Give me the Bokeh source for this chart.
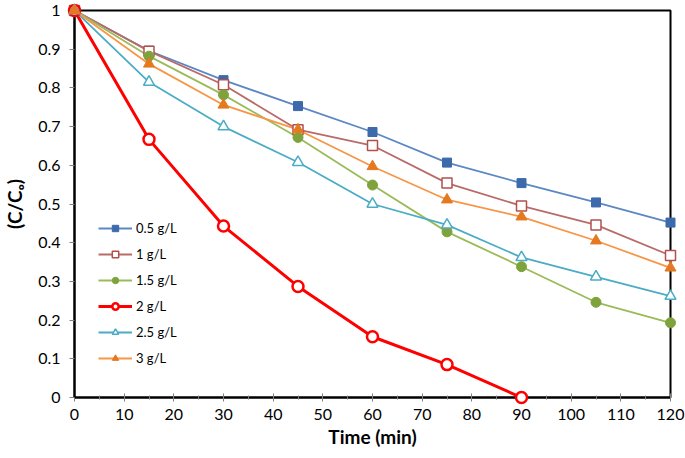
from bokeh.plotting import figure
from bokeh.models import Range1d, FixedTicker, Legend, LegendItem
from bokeh.embed import file_html
from bokeh.resources import INLINE

time_min = [0, 15, 30, 45, 60, 75, 90, 105, 120]
time_2g = [0, 15, 30, 45, 60, 75, 90]

c_05 = [1.0, 0.896, 0.82, 0.753, 0.686, 0.607, 0.554, 0.504, 0.452]
c_1 = [1.0, 0.895, 0.808, 0.692, 0.651, 0.554, 0.495, 0.446, 0.367]
c_15 = [1.0, 0.882, 0.782, 0.672, 0.549, 0.428, 0.338, 0.246, 0.193]
c_2 = [1.0, 0.667, 0.443, 0.287, 0.157, 0.085, 0.0]
c_25 = [1.0, 0.815, 0.70, 0.608, 0.50, 0.446, 0.362, 0.312, 0.262]
c_3 = [1.0, 0.862, 0.756, 0.692, 0.597, 0.511, 0.467, 0.405, 0.335]

labels = ["0.5 g/L", "1 g/L", "1.5 g/L", "2 g/L", "2.5 g/L", "3 g/L"]
y_ticks = [0, 0.1, 0.2, 0.3, 0.4, 0.5, 0.6, 0.7, 0.8, 0.9, 1.0]
y_tick_labels = ["0", "0.1", "0.2", "0.3", "0.4", "0.5", "0.6", "0.7", "0.8", "0.9", "1"]
x_ticks = [0, 10, 20, 30, 40, 50, 60, 70, 80, 90, 100, 110, 120]

FONT = "Lato"

p = figure(width=685, height=458, output_backend="svg", toolbar_location=None,
           x_range=Range1d(0, 120), y_range=Range1d(0, 1),
           min_border_left=72, min_border_right=15, min_border_top=10, min_border_bottom=61)
p.xgrid.visible = False
p.ygrid.visible = False
p.outline_line_color = "black"
p.outline_line_width = 2
p.background_fill_color = "white"
p.border_fill_color = "white"

for ax in (p.xaxis[0], p.yaxis[0]):
    ax.axis_line_color = "black"
    ax.axis_line_width = 2
    ax.major_tick_line_color = "#808080"
    ax.minor_tick_line_color = "#808080"
    ax.major_label_text_font = FONT
    ax.major_label_text_font_size = "16px"
    ax.major_label_text_color = "black"
    ax.axis_label_text_font = FONT
    ax.axis_label_text_font_style = "bold"
    ax.axis_label_text_font_size = "19px"
    ax.axis_label_text_color = "black"

xa = p.xaxis[0]
xa.ticker = FixedTicker(ticks=x_ticks, minor_ticks=list(range(0, 121, 5)))
xa.major_tick_in = 4
xa.major_tick_out = 4
xa.minor_tick_in = 2
xa.minor_tick_out = 2
xa.major_label_standoff = 7
xa.axis_label = "Time (min)"
xa.axis_label_standoff = 2

ya = p.yaxis[0]
ya.ticker = FixedTicker(ticks=y_ticks, minor_ticks=[])
ya.major_label_overrides = {t: l for t, l in zip(y_ticks, y_tick_labels)}
ya.major_tick_in = 0
ya.major_tick_out = 5
ya.major_label_standoff = 9
ya.axis_label = "(C/Cₒ)"
ya.axis_label_standoff = 9

items = []

l1 = p.line(time_min, c_05, line_color="#5B87C5", line_width=1.8)
m1 = p.scatter(time_min, c_05, marker="square", size=9, fill_color="#3C6AAB", line_color="#3C6AAB", level="overlay")
items.append(LegendItem(label=labels[0], renderers=[l1, m1]))

l2 = p.line(time_min, c_1, line_color="#B96B6A", line_width=1.8)
m2 = p.scatter(time_min, c_1, marker="square", size=10, fill_color="white", line_color="#B2504D", line_width=1.5, level="overlay")
items.append(LegendItem(label=labels[1], renderers=[l2, m2]))

l3 = p.line(time_min, c_15, line_color="#9BBB59", line_width=1.8)
m3 = p.scatter(time_min, c_15, marker="circle", size=10, fill_color="#7FA33C", line_color="#7FA33C", level="overlay")
items.append(LegendItem(label=labels[2], renderers=[l3, m3]))

l4 = p.line(time_2g, c_2, line_color="#FF0000", line_width=3)
m4 = p.scatter(time_2g, c_2, marker="circle", size=11, fill_color="white", line_color="#FF0000", line_width=2.5, level="overlay")
items.append(LegendItem(label=labels[3], renderers=[l4, m4]))

l5 = p.line(time_min, c_25, line_color="#4BACC6", line_width=1.8)
m5 = p.scatter(time_min, c_25, marker="triangle", size=11, fill_color="white", line_color="#4BACC6", line_width=1.5, level="overlay")
items.append(LegendItem(label=labels[4], renderers=[l5, m5]))

l6 = p.line(time_min, c_3, line_color="#F79646", line_width=1.8)
m6 = p.scatter(time_min, c_3, marker="triangle", size=11, fill_color="#E4791F", line_color="#E4791F", level="overlay")
items.append(LegendItem(label=labels[5], renderers=[l6, m6]))

legend = Legend(items=items, location=(24, 31))
legend.background_fill_alpha = 0
legend.border_line_color = None
legend.label_text_font = FONT
legend.label_text_font_size = "13px"
legend.label_text_color = "black"
legend.glyph_width = 34
legend.glyph_height = 16
legend.spacing = 10
legend.padding = 4
legend.label_standoff = 4
p.add_layout(legend, "center")

open("out.html", "w").write(file_html(p, INLINE))
